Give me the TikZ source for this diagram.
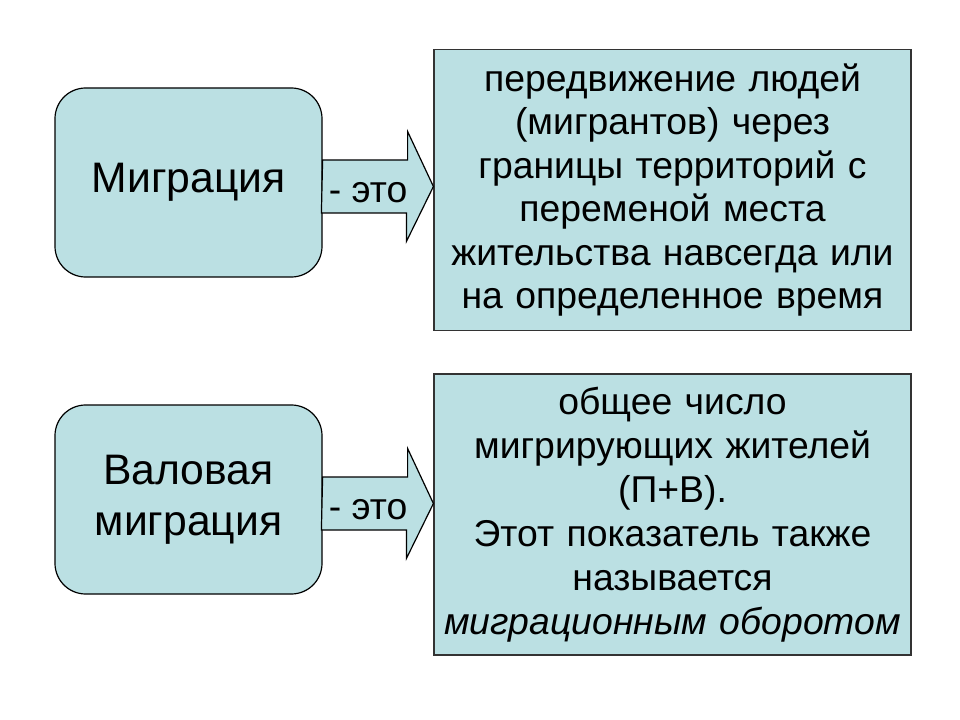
\documentclass[tikz,border=0pt]{standalone}
\usepackage{fontspec}
\setmainfont{Liberation Sans}
\usetikzlibrary{calc}
\definecolor{boxfill}{HTML}{BBE0E3}
\tikzset{
    term/.style={draw=black, fill=boxfill, rounded corners=23pt, line width=0.9pt,
        minimum width=200.25pt, minimum height=141.75pt, align=center,
        font=\fontsize{32}{38.5}\selectfont},
    defn/.style={draw=black!80, fill=boxfill, line width=0.9pt, inner sep=0pt,
        text width=357.75pt, minimum height=210.75pt, align=center},
    arrowbox/.style={draw=black, fill=boxfill, line width=0.9pt, line join=miter},
    eto/.style={anchor=base, font=\fontsize{28}{32}\selectfont}
}
\begin{document}
\begin{tikzpicture}[x=0.75pt, y=-0.75pt]
            \useasboundingbox (0,0) rectangle (960,720);
            % Terms
            \node[term] (M1) at (188.5,182.5) {Миграция};
            \node[term] (M2) at (188.5,499.5) {Валовая\\миграция};
            % Definitions
            \node[defn, font=\fontsize{28}{32.6}\selectfont] (D1) at (672.5,190)
                {передвижение людей\\(мигрантов) через\\границы территорий с\\переменой места\\жительства навсегда или\\на определенное время};
            \node[defn, font=\fontsize{28}{33}\selectfont] (D2) at (672.5,514.5)
                {общее число\\мигрирующих жителей\\(П+В).\\Этот показатель также\\называется\\\textit{миграционным оборотом}};
            % Arrows
            \foreach \i in {1,2} {
                \coordinate (A\i) at ($(M\i.east)+(0,4)$);
                \draw[arrowbox] (A\i) ++(0,-26.5) -- ++(85,0) -- ++(0,-28.5)
                    -- (D\i.west |- A\i) -- ++(-27,55) -- ++(0,-28.5) -- ++(-85,0) -- cycle;
                \node[eto] (E\i) at ($(A\i)+(45.5,16)$) {- это};
            }
\end{tikzpicture}
\end{document}
